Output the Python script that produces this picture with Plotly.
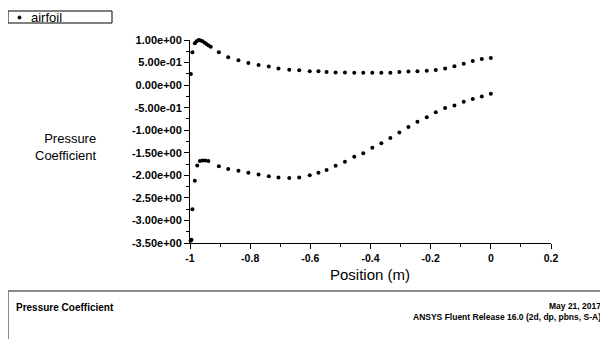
import plotly.graph_objects as go

# Data (Position in m, Pressure Coefficient)
pos_le = [-1.002, -0.997, -0.992, -0.984, -0.978, -0.971, -0.965, -0.958, -0.951, -0.945, -0.938, -0.931]
cp_le_upper = [-0.83, 0.246, 0.73, 0.93, 0.97, 1.0, 0.99, 0.97, 0.94, 0.91, 0.88, 0.85]

pos_le_low = [-1.002, -1.004, -0.998, -0.995, -0.992, -0.984, -0.976, -0.967, -0.958, -0.949, -0.939]
cp_le_lower = [-2.42, -3.51, -3.45, -3.43, -2.75, -2.12, -1.78, -1.68, -1.67, -1.67, -1.68]

pos_body = [-0.904, -0.873, -0.839, -0.806, -0.772, -0.738, -0.706, -0.670, -0.637,
            -0.602, -0.573, -0.546, -0.516, -0.485, -0.454, -0.424, -0.394, -0.364,
            -0.334, -0.304, -0.274, -0.244, -0.213, -0.183, -0.152, -0.121, -0.090,
            -0.060, -0.030, 0.0]
cp_upper = [0.73, 0.62, 0.55, 0.49, 0.445, 0.41, 0.37, 0.34, 0.33,
            0.31, 0.305, 0.29, 0.28, 0.28, 0.275, 0.275, 0.275, 0.275,
            0.275, 0.29, 0.30, 0.31, 0.32, 0.335, 0.37, 0.42, 0.475,
            0.535, 0.58, 0.60]
cp_lower = [-1.80, -1.86, -1.90, -1.94, -1.98, -2.02, -2.05, -2.06, -2.05,
            -2.00, -1.94, -1.88, -1.79, -1.70, -1.59, -1.51, -1.39, -1.29,
            -1.17, -1.05, -0.93, -0.81, -0.71, -0.60, -0.51, -0.45, -0.37,
            -0.31, -0.25, -0.19]

ytick_vals = [1.0, 0.5, 0.0, -0.5, -1.0, -1.5, -2.0, -2.5, -3.0, -3.5]
ytick_text = ["1.00e+00", "5.00e-01", "0.00e+00", "-5.00e-01", "-1.00e+00",
              "-1.50e+00", "-2.00e+00", "-2.50e+00", "-3.00e+00", "-3.50e+00"]
xtick_vals = [-1, -0.8, -0.6, -0.4, -0.2, 0, 0.2]
xtick_text = ["-1", "-0.8", "-0.6", "-0.4", "-0.2", "0", "0.2"]

xs = pos_le + pos_le_low + pos_body + pos_body
ys = cp_le_upper + cp_le_lower + cp_upper + cp_lower

FONT = "Liberation Sans, Arial, sans-serif"

# page has an 8px body margin: size the figure so it fits exactly
OFF = 8
W, H = 608 - OFF, 339 - OFF
L, R, T, B = 190 - OFF, 57, 40 - OFF, 96
pw, ph = W - L - R, H - T - B

def px(xp):  # page pixel x -> paper
    return (xp - OFF - L) / pw

def py(yp):  # page pixel y -> paper
    return (H - B - (yp - OFF)) / ph

fig = go.Figure()
fig.add_trace(go.Scatter(
    x=xs, y=ys, mode="markers", name="airfoil",
    marker=dict(color="black", size=4),
    cliponaxis=False, showlegend=False,
))

axis_common = dict(
    showgrid=False, zeroline=False, showline=True, linecolor="black", linewidth=1,
    ticks="outside", ticklen=5, tickcolor="black", mirror=False,
)

fig.update_layout(
    width=W, height=H,
    margin=dict(l=L, r=R, t=T, b=B),
    paper_bgcolor="white", plot_bgcolor="white",
    showlegend=False,
    xaxis=dict(range=[-1, 0.2], tickvals=xtick_vals, ticktext=xtick_text,
               minor=dict(dtick=0.1, ticks="outside", ticklen=3, tickcolor="black"),
               tickfont=dict(family=FONT, size=10.5, color="black", weight="bold"),
               **axis_common),
    yaxis=dict(range=[-3.5, 1.0], tickvals=ytick_vals, ticktext=ytick_text,
               minor=dict(dtick=0.25, tick0=0, ticks="outside", ticklen=3, tickcolor="black"),
               tickfont=dict(family=FONT, size=11, color="black", weight="bold"),
               ticksuffix="\u2002",
               **axis_common),
    font=dict(family=FONT, color="black"),
)

annotations = [
    dict(text="airfoil", x=px(29), y=py(17), xref="paper", yref="paper",
         xanchor="left", yanchor="middle", showarrow=False,
         font=dict(family=FONT, size=13, color="black")),
    dict(text="Pressure<br>Coefficient", x=px(99), y=py(147), xref="paper", yref="paper",
         xanchor="right", yanchor="middle", align="right", showarrow=False,
         font=dict(family=FONT, size=13, color="black")),
    dict(text="Position (m)", x=px(370), y=py(274), xref="paper", yref="paper",
         xanchor="center", yanchor="middle", showarrow=False,
         font=dict(family=FONT, size=15, color="black")),
    dict(text="<b>Pressure Coefficient</b>", x=px(14), y=py(307), xref="paper", yref="paper",
         xanchor="left", yanchor="middle", showarrow=False,
         font=dict(family=FONT, size=10, color="black")),
    dict(text="<b>May 21, 2017<br>ANSYS Fluent Release 16.0 (2d, dp, pbns, S-A)</b>",
         x=px(603), y=py(311), xref="paper", yref="paper",
         xanchor="right", yanchor="middle", align="right", showarrow=False,
         font=dict(family=FONT, size=8.5, color="black")),
]
fig.update_layout(annotations=annotations)

# legend box and dot
fig.add_shape(type="rect", xref="paper", yref="paper",
              x0=px(8), x1=px(112), y0=py(23), y1=py(11),
              line=dict(color="black", width=1), fillcolor="white")
fig.add_shape(type="circle", xref="paper", yref="paper",
              x0=px(18), x1=px(21), y0=py(19), y1=py(16),
              line=dict(color="black", width=1), fillcolor="black")

# footer frame
fig.add_shape(type="rect", xref="paper", yref="paper",
              x0=px(8), x1=px(640), y0=py(380), y1=py(291),
              line=dict(color="#666666", width=1.5), fillcolor="rgba(0,0,0,0)")

fig.write_html("out.html")
